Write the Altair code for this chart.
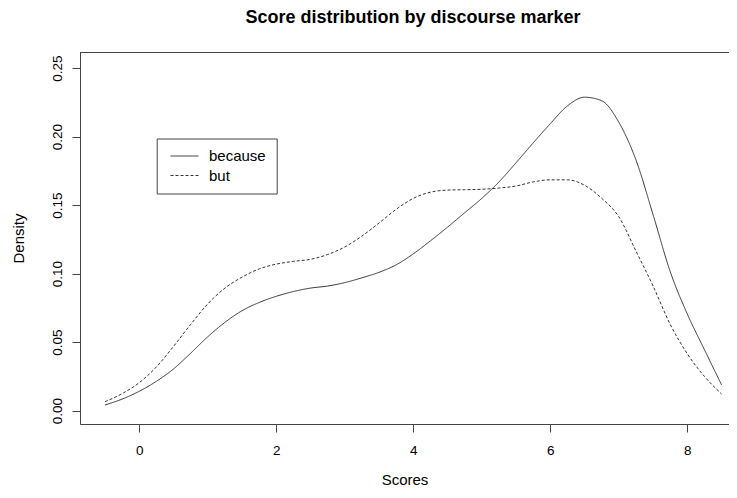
import altair as alt
import pandas as pd

# Data
scores = [-0.5, -0.25, 0.0, 0.25, 0.5, 0.75, 1.0, 1.25, 1.5, 1.75, 2.0, 2.25, 2.5,
          2.75, 3.0, 3.25, 3.5, 3.75, 4.0, 4.25, 4.5, 4.75, 5.0, 5.25, 5.5, 5.75,
          6.0, 6.25, 6.5, 6.75, 7.0, 7.25, 7.5, 7.75, 8.0, 8.25, 8.5]
because = [0.0042, 0.0085, 0.0142, 0.0215, 0.0305, 0.0420, 0.0540, 0.0645, 0.0730,
           0.0790, 0.0835, 0.0870, 0.0895, 0.0910, 0.0935, 0.0970, 0.1010, 0.1065,
           0.1145, 0.1240, 0.1340, 0.1445, 0.1550, 0.1670, 0.1810, 0.1955, 0.2095,
           0.2225, 0.2288, 0.2262, 0.2105, 0.1830, 0.1430, 0.1015, 0.0705, 0.0445,
           0.0188]
but = [0.0066, 0.0125, 0.0205, 0.0320, 0.0470, 0.0630, 0.0780, 0.0895, 0.0975,
       0.1035, 0.1070, 0.1090, 0.1105, 0.1140, 0.1195, 0.1275, 0.1370, 0.1470,
       0.1550, 0.1595, 0.1610, 0.1613, 0.1616, 0.1625, 0.1640, 0.1670, 0.1685,
       0.1685, 0.1645, 0.1550, 0.1415, 0.1165, 0.0910, 0.0630, 0.0415, 0.0250,
       0.0122]
markers = ["because", "but"]
x_ticks = [0, 2, 4, 6, 8]
y_ticks = [0.00, 0.05, 0.10, 0.15, 0.20, 0.25]

df = pd.DataFrame({
    "Scores": scores * 2,
    "Density": because + but,
    "marker": [markers[0]] * len(scores) + [markers[1]] * len(scores),
})

FONT = "Liberation Sans"
AX = "#444444"
W, H = 649, 372

lines = alt.Chart(df).mark_line(
    color="#333333", strokeWidth=1, interpolate="monotone", clip=True
).encode(
    x=alt.X("Scores:Q",
            scale=alt.Scale(domain=[-0.866, 8.608], nice=False, zero=False),
            axis=alt.Axis(values=x_ticks, format="d", title="Scores",
                          tickSize=8, labelPadding=11, titlePadding=16,
                          labelFlush=False)),
    y=alt.Y("Density:Q",
            scale=alt.Scale(domain=[-0.0097, 0.2618], nice=False, zero=False),
            axis=alt.Axis(values=y_ticks, format=".2f", title="Density",
                          tickSize=8, labelAngle=270, labelAlign="center",
                          labelBaseline="alphabetic", labelPadding=11,
                          titlePadding=24, labelFlush=False)),
    strokeDash=alt.StrokeDash(
        "marker:N",
        scale=alt.Scale(domain=markers, range=[[1, 0], [3, 2]]),
        legend=alt.Legend(
            title=None, orient="none", legendX=76.7, legendY=86.5,
            direction="vertical", strokeColor=AX, fillColor="white",
            padding=10, symbolType="M-1,0H3", symbolSize=196,
            symbolStrokeWidth=1, symbolStrokeColor="#333333",
            symbolOffset=3.3, labelOffset=24, labelFont=FONT,
            labelFontSize=15, labelColor="black", rowPadding=3.5,
        ),
    ),
)

top_border = alt.Chart(df).mark_rule(color=AX, strokeWidth=1).encode(
    x=alt.value(0), x2=alt.value(W), y=alt.value(0.5)
)

chart = alt.layer(lines, top_border).properties(
    width=W, height=H,
    autosize=alt.AutoSizeParams(type="none"),
    padding={"left": 72, "top": 44, "right": 0, "bottom": 66},
    title=alt.Title("Score distribution by discourse marker", font=FONT,
                    fontSize=18, fontWeight="bold", color="black",
                    anchor="middle", baseline="alphabetic", offset=11, dx=8.5),
).configure_view(stroke=None).configure_axis(
    grid=False, domainColor=AX, tickColor=AX, domainWidth=1, tickWidth=1,
    labelFont=FONT, labelFontSize=13.5, labelColor="black",
    titleFont=FONT, titleFontSize=15, titleFontWeight="normal", titleColor="black",
)

chart.save("out.html", embed_options={"renderer": "svg", "actions": False})
